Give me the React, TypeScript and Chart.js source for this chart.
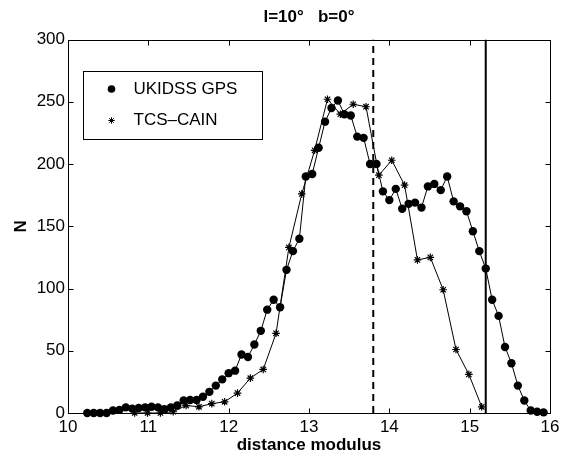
import React, { useEffect, useRef } from "react";
import { Chart, registerables } from "chart.js";

Chart.register(...registerables);

// ---- data ----
const ukidssX = [
  10.24, 10.32, 10.4, 10.48, 10.56, 10.64, 10.72, 10.8, 10.88, 10.96,
  11.04, 11.12, 11.2, 11.28, 11.36, 11.44, 11.52, 11.6, 11.68, 11.76,
  11.84, 11.92, 12.0, 12.08, 12.16, 12.24, 12.32, 12.4, 12.48, 12.56,
  12.64, 12.72, 12.8, 12.88, 12.96, 13.04, 13.12, 13.2, 13.28, 13.36,
  13.44, 13.52, 13.6, 13.68, 13.76, 13.84, 13.92, 14.0, 14.08, 14.16,
  14.24, 14.32, 14.4, 14.48, 14.56, 14.64, 14.72, 14.8, 14.88, 14.96,
  15.04, 15.12, 15.2, 15.28, 15.36, 15.44, 15.52, 15.6, 15.68, 15.76,
  15.84, 15.92,
];
const ukidssN = [
  0, 0, 0, 0, 2, 2.5, 4.5, 3.5, 4, 4.5,
  5, 4.5, 3, 4.5, 6, 10, 10.5, 10.5, 13, 17,
  22, 27, 32, 34, 47, 45, 55, 66, 83, 91,
  85, 115, 130, 140, 190, 192, 213, 234, 245, 251,
  240, 239, 222, 221, 200, 200, 178, 171, 180, 164,
  168, 169, 165, 182, 184, 179, 190, 170, 166, 162,
  146, 130, 116, 91, 78, 53, 40, 22, 10, 2,
  1, 0.5,
];
const tcsX = [
  10.83, 10.99, 11.15, 11.31, 11.47, 11.63, 11.79, 11.95, 12.11, 12.27,
  12.43, 12.59, 12.75, 12.91, 13.07, 13.23, 13.39, 13.55, 13.71, 13.87,
  14.03, 14.19, 14.35, 14.51, 14.67, 14.83, 14.99, 15.15,
];
const tcsN = [
  0, 0, 0, 1, 6, 5, 7.5, 9, 16, 28,
  35, 64, 133, 176, 211, 252, 240, 248, 246, 191,
  203, 183, 123, 125, 99, 51, 31, 5,
];
const seriesLabels = ["UKIDSS GPS", "TCS\u2013CAIN"];
const dashedLineX = 13.8;
const solidLineX = 15.2;
const xMin = 10, xMax = 16, xStep = 1;
const yMin = 0, yMax = 300, yStep = 50;
const titleText = "l=10\u00b0   b=0\u00b0";
const xTitle = "distance modulus";
const yTitle = "N";

const FONT = "'Liberation Sans', Arial, Helvetica, sans-serif";

const framePlugin = {
  id: "frame",
  afterDatasetsDraw(chart: any) {
    const { ctx, chartArea: a, scales } = chart;
    const xs = scales.x, ys = scales.y;
    const L = Math.round(a.left) + 0.5, R = Math.round(a.right) + 0.5;
    const T = Math.round(a.top) + 0.5, B = Math.round(a.bottom) + 0.5;
    ctx.save();
    ctx.strokeStyle = "#000";
    ctx.lineWidth = 1;
    ctx.strokeRect(L, T, R - L, B - T);
    const tl = 5;
    ctx.beginPath();
    xs.ticks.forEach((t: any) => {
      const px = Math.round(xs.getPixelForValue(t.value)) + 0.5;
      ctx.moveTo(px, B); ctx.lineTo(px, B - tl);
      ctx.moveTo(px, T); ctx.lineTo(px, T + tl);
    });
    ys.ticks.forEach((t: any) => {
      const py = Math.round(ys.getPixelForValue(t.value)) + 0.5;
      ctx.moveTo(L, py); ctx.lineTo(L + tl, py);
      ctx.moveTo(R, py); ctx.lineTo(R - tl, py);
    });
    ctx.stroke();

    // legend
    const lx = Math.round(a.left + 15) + 0.5;
    const ly = Math.round(a.top + 31) + 0.5;
    const lw = 179, lh = 68;
    ctx.fillStyle = "#fff";
    ctx.fillRect(lx, ly, lw, lh);
    ctx.strokeRect(lx, ly, lw, lh);
    const mx = lx + 28;
    const rows = [ly + 17.5, ly + 49];
    ctx.fillStyle = "#000";
    ctx.beginPath();
    ctx.arc(mx, rows[0], 3.8, 0, Math.PI * 2);
    ctx.fill();
    const r = 3.2;
    ctx.beginPath();
    ctx.moveTo(mx - r, rows[1]); ctx.lineTo(mx + r, rows[1]);
    ctx.moveTo(mx, rows[1] - r); ctx.lineTo(mx, rows[1] + r);
    const d = r * Math.SQRT1_2;
    ctx.moveTo(mx - d, rows[1] - d); ctx.lineTo(mx + d, rows[1] + d);
    ctx.moveTo(mx - d, rows[1] + d); ctx.lineTo(mx + d, rows[1] - d);
    ctx.stroke();
    ctx.font = `17px ${FONT}`;
    ctx.textBaseline = "middle";
    ctx.textAlign = "left";
    ctx.fillText(chart.data.datasets[0].label, lx + 50, rows[0]);
    ctx.fillText(chart.data.datasets[1].label, lx + 50, rows[1]);
    ctx.restore();
  },
};

export default function App() {
  const ref = useRef<HTMLCanvasElement>(null);
  useEffect(() => {
    const canvas = ref.current!;
    const chart = new Chart(canvas, {
      type: "scatter",
      data: {
        datasets: [
          {
            label: seriesLabels[0],
            data: ukidssX.map((x, i) => ({ x, y: ukidssN[i] })),
            showLine: true,
            borderColor: "#000",
            borderWidth: 1,
            backgroundColor: "#000",
            pointStyle: "circle",
            pointRadius: 4.2,
            pointBorderWidth: 0,
            pointBackgroundColor: "#000",
            tension: 0,
            clip: false,
          },
          {
            label: seriesLabels[1],
            data: tcsX.map((x, i) => ({ x, y: tcsN[i] })),
            showLine: true,
            borderColor: "#000",
            borderWidth: 1,
            backgroundColor: "#000",
            pointStyle: "star",
            pointRadius: 3.8,
            pointBorderWidth: 1.2,
            pointBorderColor: "#000",
            tension: 0,
            clip: false,
          },
          {
            label: "dashed",
            data: [{ x: dashedLineX, y: yMin }, { x: dashedLineX, y: yMax }],
            showLine: true,
            borderColor: "#000",
            borderWidth: 2,
            borderDash: [7, 5],
            pointRadius: 0,
          },
          {
            label: "solid",
            data: [{ x: solidLineX, y: yMin }, { x: solidLineX, y: yMax }],
            showLine: true,
            borderColor: "#000",
            borderWidth: 2,
            pointRadius: 0,
          },
        ],
      },
      options: {
        responsive: false,
        animation: false,
        events: [],
        layout: { padding: { left: 0, right: 20, top: 0, bottom: 0 } },
        plugins: {
          legend: { display: false },
          tooltip: { enabled: false },
          title: {
            display: true,
            fullSize: false,
            text: titleText,
            color: "#000",
            font: { family: FONT, size: 17, weight: "bold", lineHeight: 1.2 },
            padding: { top: 7, bottom: 12.1 },
          },
        },
        scales: {
          x: {
            type: "linear",
            min: xMin,
            max: xMax,
            grid: { display: false, drawTicks: false },
            border: { display: false },
            ticks: {
              stepSize: xStep,
              color: "#000",
              padding: 4,
              font: { family: FONT, size: 17 },
              maxRotation: 0,
            },
            title: {
              display: true,
              text: xTitle,
              color: "#000",
              font: { family: FONT, size: 17, weight: "bold", lineHeight: 1.2 },
              padding: { top: 0, bottom: 3.3 },
            },
            afterFit(scale: any) {
              scale.height = 46;
            },
          },
          y: {
            type: "linear",
            min: yMin,
            max: yMax,
            grid: { display: false, drawTicks: false },
            border: { display: false },
            ticks: {
              stepSize: yStep,
              color: "#000",
              padding: 3,
              font: { family: FONT, size: 17 },
            },
            title: {
              display: true,
              text: yTitle,
              color: "#000",
              font: { family: FONT, size: 17, weight: "bold", lineHeight: 1.2 },
              padding: { top: 11, bottom: 0 },
            },
            afterFit(scale: any) {
              scale.width = 68;
            },
          },
        },
      } as any,
      plugins: [framePlugin],
    });
    return () => chart.destroy();
  }, []);
  return (
    <div style={{ position: "absolute", left: 0, top: 0, width: 570, height: 459, background: "#fff" }}>
      <canvas ref={ref} width={570} height={459} style={{ display: "block", width: 570, height: 459 }} />
    </div>
  );
}
